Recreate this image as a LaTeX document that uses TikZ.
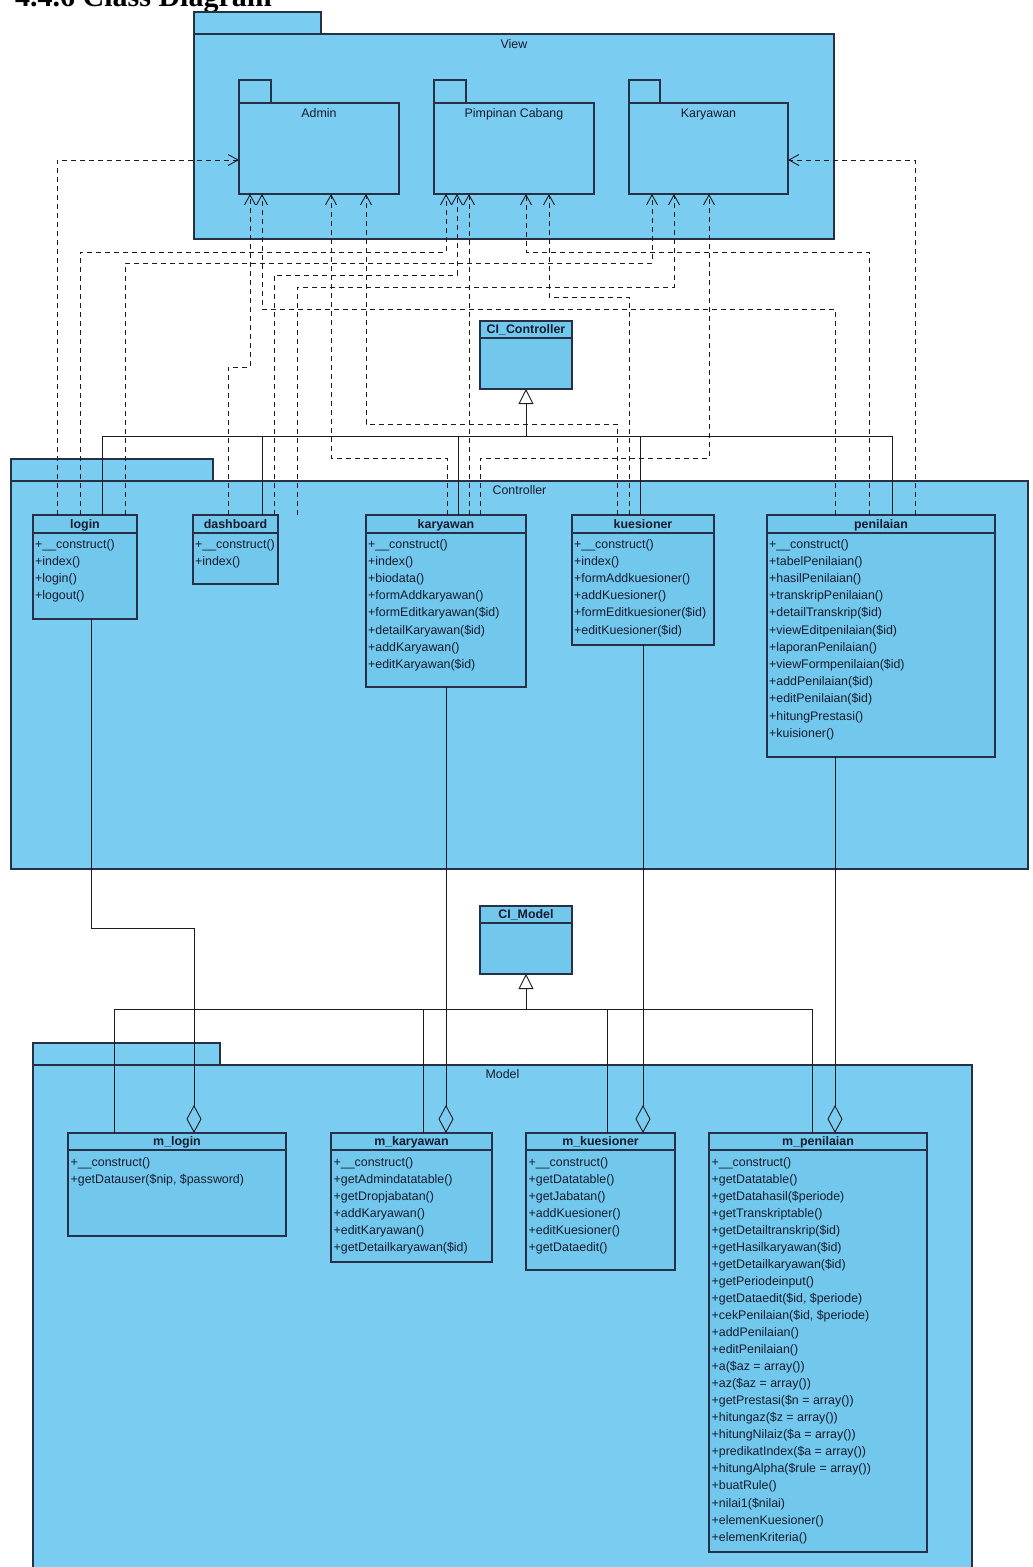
\documentclass[tikz,border=0pt]{standalone}
\usepackage{fontspec}
\setmainfont{Liberation Sans}
\newfontfamily\titlefont{Liberation Serif}
\usetikzlibrary{arrows.meta,calc}
\definecolor{pkgblue}{RGB}{122,204,240}
\definecolor{clsblue}{RGB}{114,199,237}
\definecolor{edge}{RGB}{38,48,70}
\definecolor{wire}{RGB}{28,28,32}
\definecolor{ink}{RGB}{20,28,45}

\newcommand\mkclass[7]{% name, x, y, w, h, header height, title
  \node[cls, minimum width=#4pt, minimum height=#5pt] (#1) at (#2,#3) {};
  \draw[draw=edge, line width=1.1pt] ($(#1.north west)+(0,#6)$) -- ($(#1.north east)+(0,#6)$);
  \node[clstitle] (#1-title) at ($(#1.north)+(0,{#6-4.5})$) {#7};
}
\newcommand\mkmethods[5]{% class node, x offset, first baseline offset, pitch, list
  \foreach \mname [count=\i] in {#5} {
    \node[meth] (#1-m\i) at ($(#1.north west)+(#2,{#3+(\i-1)*#4})$) {\mname};
  }
}

\begin{document}
\begin{tikzpicture}[x=1pt,y=-1pt,
  pkg/.style={draw=edge, fill=pkgblue, line width=1.2pt, inner sep=0pt, outer sep=0pt, anchor=north west},
  cls/.style={draw=edge, fill=clsblue, line width=1.1pt, inner sep=0pt, outer sep=0pt, anchor=north west},
  pkglabel/.style={font=\fontsize{12.4}{14}\selectfont, text=ink, anchor=base, inner sep=0pt},
  clstitle/.style={font=\bfseries\fontsize{12.4}{14}\selectfont, text=ink, anchor=base, inner sep=0pt},
  meth/.style={font=\fontsize{12.4}{14}\selectfont, text=ink, anchor=base west, inner sep=0pt},
  dep/.style={draw=wire, line width=0.9pt, dash pattern=on 5pt off 4pt,
    -{Straight Barb[length=10pt,width=11pt,line width=0.9pt]}},
  gen/.style={draw=wire, line width=0.9pt},
  genhead/.style={draw=wire, line width=0.9pt, -{Triangle[length=15pt,width=15pt,fill=white,line width=0.9pt]}},
  agg/.style={draw=wire, line width=0.9pt, -{Diamond[open,length=28pt,width=15pt,line width=0.9pt]}}
]
\useasboundingbox (0,0) rectangle (1033,1567);
\clip (0,0) rectangle (1033,1567);
\fill[white] (0,0) rectangle (1033,1567);

% title (cut off at the top)
\node[anchor=base west, inner sep=0pt, font=\titlefont\bfseries\fontsize{30}{32}\selectfont] (title) at (15,6.5) {4.4.6 Class Diagram};

% ---------------- View package
\node[pkg, minimum width=127pt, minimum height=22pt] (viewtab) at (194,12) {};
\node[pkg, minimum width=640pt, minimum height=205pt] (view) at (194,34) {};
\node[pkglabel] (viewlbl) at ($(view.north)+(0,14)$) {View};

\node[pkg, minimum width=32pt, minimum height=23pt] (admintab) at (239,80) {};
\node[pkg, minimum width=160pt, minimum height=91pt] (admin) at (239,103) {};
\node[pkglabel] (adminlbl) at ($(admin.north)+(0,14.5)$) {Admin};

\node[pkg, minimum width=32pt, minimum height=23pt] (pimpinantab) at (434,80) {};
\node[pkg, minimum width=160pt, minimum height=91pt] (pimpinan) at (434,103) {};
\node[pkglabel] (pimpinanlbl) at ($(pimpinan.north)+(0,14.5)$) {Pimpinan Cabang};

\node[pkg, minimum width=31pt, minimum height=23pt] (karyawanvtab) at (629,80) {};
\node[pkg, minimum width=159pt, minimum height=91pt] (karyawanv) at (629,103) {};
\node[pkglabel] (karyawanvlbl) at ($(karyawanv.north)+(0,14.5)$) {Karyawan};

% ---------------- Controller package
\node[pkg, minimum width=202pt, minimum height=22pt] (ctrltab) at (11,459) {};
\node[pkg, minimum width=1017pt, minimum height=388pt] (ctrl) at (11,481) {};
\node[pkglabel] (ctrllbl) at ($(ctrl.north)+(0,13.5)$) {Controller};

% ---------------- Model package
\node[pkg, minimum width=187pt, minimum height=22pt] (modeltab) at (33,1043) {};
\node[pkg, minimum width=939pt, minimum height=540pt] (model) at (33,1065) {};
\node[pkglabel] (modellbl) at ($(model.north)+(0,13.5)$) {Model};

% ---------------- classes
\mkclass{cictrl}{480}{321}{92}{68}{17}{CI\_Controller}
\mkclass{cimodel}{480}{906}{92}{68}{17}{CI\_Model}

\mkclass{login}{33}{515}{104}{104}{18}{login}
\mkmethods{login}{2}{33}{17.2}{+\_\_construct(), +index(), +login(), +logout()}

\mkclass{dashboard}{193}{515}{85}{69}{18}{dashboard}
\mkmethods{dashboard}{2}{33}{17.2}{+\_\_construct(), +index()}

\mkclass{karyawan}{366}{515}{160}{172}{18}{karyawan}
\mkmethods{karyawan}{2}{33}{17.2}{+\_\_construct(), +index(), +biodata(), +formAddkaryawan(), +formEditkaryawan(\$id), +detailKaryawan(\$id), +addKaryawan(), +editKaryawan(\$id)}

\mkclass{kuesioner}{572}{515}{142}{130}{18}{kuesioner}
\mkmethods{kuesioner}{2}{33}{17.2}{+\_\_construct(), +index(), +formAddkuesioner(), +addKuesioner(), +formEditkuesioner(\$id), +editKuesioner(\$id)}

\mkclass{penilaian}{767}{515}{228}{242}{18}{penilaian}
\mkmethods{penilaian}{2}{33}{17.2}{+\_\_construct(), +tabelPenilaian(), +hasilPenilaian(), +transkripPenilaian(), +detailTranskrip(\$id), +viewEditpenilaian(\$id), +laporanPenilaian(), +viewFormpenilaian(\$id), +addPenilaian(\$id), +editPenilaian(\$id), +hitungPrestasi(), +kuisioner()}

\mkclass{mlogin}{68}{1133}{218}{103}{17}{m\_login}
\mkmethods{mlogin}{2.5}{33}{17.05}{+\_\_construct(), {+getDatauser(\$nip, \$password)}}

\mkclass{mkaryawan}{331}{1133}{161}{129}{17}{m\_karyawan}
\mkmethods{mkaryawan}{2.5}{33}{17.05}{+\_\_construct(), +getAdmindatatable(), +getDropjabatan(), +addKaryawan(), +editKaryawan(), +getDetailkaryawan(\$id)}

\mkclass{mkuesioner}{526}{1133}{149}{137}{17}{m\_kuesioner}
\mkmethods{mkuesioner}{2.5}{33}{17.05}{+\_\_construct(), +getDatatable(), +getJabatan(), +addKuesioner(), +editKuesioner(), +getDataedit()}

\mkclass{mpenilaian}{709}{1133}{218}{419}{17}{m\_penilaian}
\mkmethods{mpenilaian}{2.5}{33}{17.05}{+\_\_construct(), +getDatatable(), +getDatahasil(\$periode), +getTranskriptable(), +getDetailtranskrip(\$id), +getHasilkaryawan(\$id), +getDetailkaryawan(\$id), +getPeriodeinput(), {+getDataedit(\$id, \$periode)}, {+cekPenilaian(\$id, \$periode)}, +addPenilaian(), +editPenilaian(), +a(\$az = array()), +az(\$az = array()), +getPrestasi(\$n = array()), +hitungaz(\$z = array()), +hitungNilaiz(\$a = array()), +predikatIndex(\$a = array()), +hitungAlpha(\$rule = array()), +buatRule(), +nilai1(\$nilai), +elemenKuesioner(), +elemenKriteria()}

% ---------------- dependencies (controllers -> views)
\draw[dep] (login.north -| 57,0) |- (admin.west |- 0,160);
\draw[dep] (login.north -| 80,0) |- (446,252) -- (pimpinan.south -| 446,0);
\draw[dep] (login.north -| 125,0) |- (652,263) -- (karyawanv.south -| 652,0);

\draw[dep] (dashboard.north -| 228,0) |- (250,367) -- (admin.south -| 250,0);
\draw[dep] (dashboard.north -| 274,0) |- (457,275) -- (pimpinan.south -| 457,0);
\draw[dep] (dashboard.north -| 297,0) |- (674,287) -- (karyawanv.south -| 674,0);

\draw[dep] (karyawan.north -| 447,0) |- (331,458) -- (admin.south -| 331,0);
\draw[dep] (karyawan.north -| 469,0) -- (pimpinan.south -| 469,0);
\draw[dep] (karyawan.north -| 480,0) |- (709,458) -- (karyawanv.south -| 709,0);

\draw[dep] (kuesioner.north -| 617,0) |- (366,424) -- (admin.south -| 366,0);
\draw[dep] (kuesioner.north -| 629,0) |- (549,297) -- (pimpinan.south -| 549,0);

\draw[dep] (penilaian.north -| 835,0) |- (262,309) -- (admin.south -| 262,0);
\draw[dep] (penilaian.north -| 869,0) |- (526,252) -- (pimpinan.south -| 526,0);
\draw[dep] (penilaian.north -| 915,0) |- (karyawanv.east |- 0,160);

% ---------------- generalisations
\coordinate (cbus) at (526,436);
\foreach \n/\xx in {login/102, dashboard/262, karyawan/458, kuesioner/640, penilaian/892}
  \draw[gen] (\n.north -| \xx,0) |- (cbus);
\draw[genhead] (cbus) -- (cictrl.south);

\coordinate (mbus) at (526,1009);
\foreach \n/\xx in {mlogin/114, mkaryawan/423, mkuesioner/607, mpenilaian/812}
  \draw[gen] (\n.north -| \xx,0) |- (mbus);
\draw[genhead] (mbus) -- (cimodel.south);

% ---------------- aggregations
\draw[agg] (login.south -| 91,0) |- (194,928) -- (mlogin.north -| 194,0);
\draw[agg] (karyawan.south -| 446,0) -- (mkaryawan.north -| 446,0);
\draw[agg] (kuesioner.south -| 643,0) -- (mkuesioner.north -| 643,0);
\draw[agg] (penilaian.south -| 835,0) -- (mpenilaian.north -| 835,0);
\end{tikzpicture}
\end{document}
